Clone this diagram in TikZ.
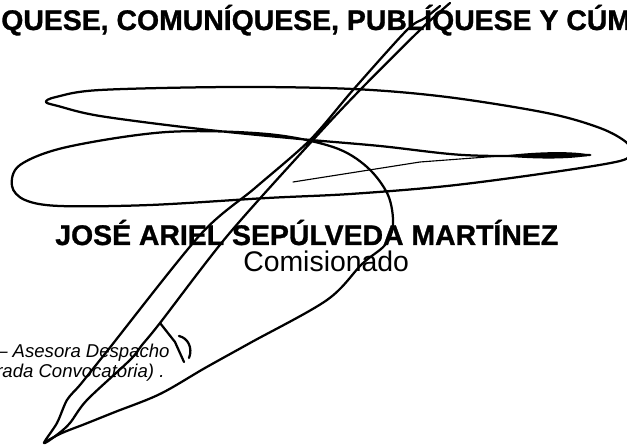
\documentclass[tikz,border=0pt]{standalone}
\usepackage{fontspec}
\setmainfont{Liberation Sans}[BoldFeatures={FakeBold=1}]
\usepackage{tikz}

\begin{document}
\begin{tikzpicture}[x=0.025cm, y=-0.025cm,
    pen/.style={line width=1.6pt, line cap=round, line join=round},
    thinpen/.style={line width=0.8pt, line cap=round},
    bigtext/.style={inner sep=0pt, anchor=base west, font=\fontsize{20.2pt}{24pt}\selectfont},
    smalltext/.style={inner sep=0pt, anchor=base west, font=\fontsize{13.2pt}{16pt}\selectfont\itshape}]
			%%%%% START %%%%%
			
			\useasboundingbox (0,0) rectangle (627,446);
			\clip (0,0) rectangle (627,446);
			
			\node[bigtext, font=\fontsize{20.2pt}{24pt}\selectfont\bfseries] (decree) at (1,30) {QUESE, COMUNÍQUESE, PUBLÍQUESE Y CÚM};
			\node[bigtext, font=\fontsize{20.2pt}{24pt}\selectfont\bfseries] (signer) at (55,245) {JOSÉ ARIEL SEPÚLVEDA MARTÍNEZ};
			\node[bigtext] (role) at (243,272) {Comisionado};
			
			\node[smalltext] (adviser) at (-3,358) {– Asesora Despacho};
			\node[smalltext] (call) at (-4,378) {rada Convocatoria) .};
			
			% loops of the signature
			\draw[thinpen] (293,182) -- (420,162) -- (500,156) -- (590,155);
			\fill (500,156) .. controls (540,151) and (575,151) .. (592,155) .. controls (575,159) and (540,160) .. (500,156);
			\draw[pen] plot[smooth, tension=0.55] coordinates {(590,155) (547,156) (463,155) (380,146) (300,139) (200,129) (100,116) (58,106) (46,102) (56,97) (100,90) (233,87) (353,89) (447,97) (547,113) (600,128) (626,142) (630,152) (620,161) (547,173) (447,186) (350,194) (267,198) (150,205) (60,206) (25,200) (12,186) (20,165) (67,147) (167,132) (267,134) (333,147) (367,167) (388,195) (393,225) (385,245) (362,264) (327,300) (250,343) (205,368) (160,394) (115,412) (85,424) (62,433) (45,442)};
			
			% long strokes
			\draw[pen] plot[smooth, tension=0.5] coordinates {(440,6) (425,18) (407,30) (353,90) (310,140) (255,188) (200,235) (108,350) (100,360) (80,385) (67,400) (57,423) (44,443) (58,434) (70,423) (87,400) (130,360) (142,345) (160,323) (228,235) (313,140) (360,90) (420,30) (450,3)};
			\draw[pen] (160,323) -- (175,342) -- (184,362);
			\draw[pen] (179,336) .. controls (188,338) and (193,348) .. (189,358);
			
			%%%%% END %%%%%
		\end{tikzpicture}
\end{document}
